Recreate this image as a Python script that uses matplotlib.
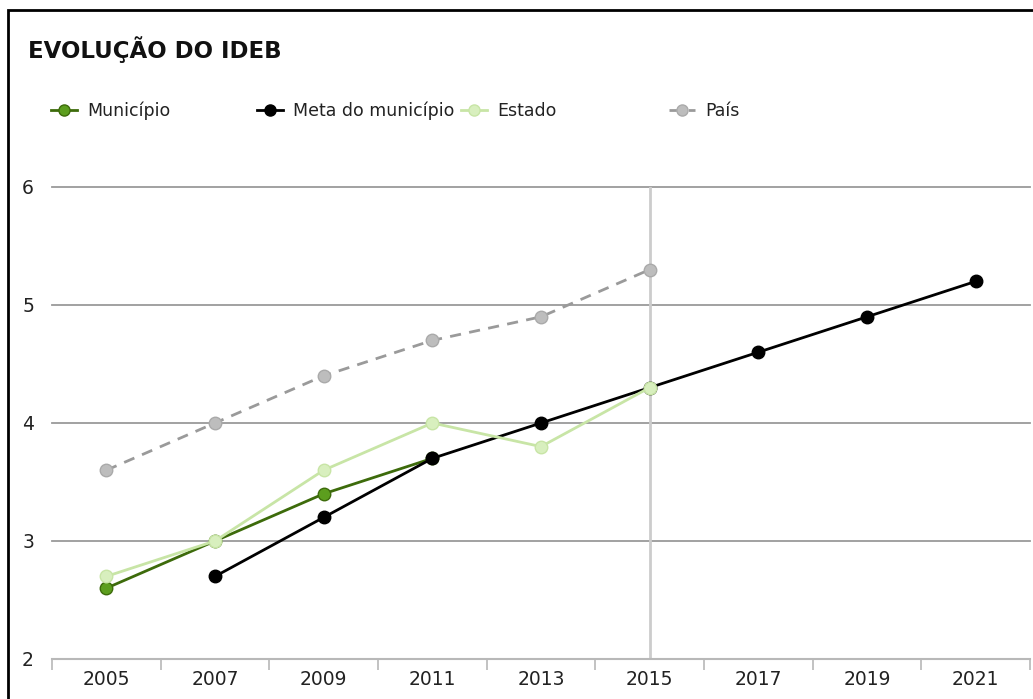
import matplotlib.pyplot as plt
from matplotlib.patches import Rectangle
from matplotlib.lines import Line2D

# dados do gráfico
anos = ['2005', '2007', '2009', '2011', '2013', '2015', '2017', '2019', '2021']
municipio = [2.6, 3.0, 3.4, 3.7, None, None, None, None, None]
meta = [None, 2.7, 3.2, 3.7, 4.0, 4.3, 4.6, 4.9, 5.2]
estado = [2.7, 3.0, 3.6, 4.0, 3.8, 4.3, None, None, None]
pais = [3.6, 4.0, 4.4, 4.7, 4.9, 5.3, None, None, None]
y_ticks = [2, 3, 4, 5, 6]


def to_xy(values):
    xs = [i for i, v in enumerate(values) if v is not None]
    ys = [v for v in values if v is not None]
    return xs, ys


fig = plt.figure(figsize=(10.33, 6.99), dpi=100)
ax = fig.add_axes([52 / 1033, 40 / 699, 978 / 1033, 472 / 699])

series = [
    ('Município', municipio, dict(color='#3d6b0b', mfc='#5c9e1e', mec='#3d6b0b', ls='-')),
    ('Meta do município', meta, dict(color='black', mfc='black', mec='black', ls='-')),
    ('Estado', estado, dict(color='#c8e5a6', mfc='#d8efbe', mec='#c8e5a6', ls='-')),
    ('País', pais, dict(color='#9a9a9a', mfc='#bdbdbd', mec='#aaaaaa', ls=(0, (4, 3)))),
]

handles = []
for name, vals, st in series:
    xs, ys = to_xy(vals)
    ax.plot(xs, ys, color=st['color'], ls=st['ls'], lw=2, marker='o', ms=9,
            mfc=st['mfc'], mec=st['mec'], mew=1, zorder=3)
    handles.append(Line2D([], [], color=st['color'], ls=st['ls'], lw=2, marker='o',
                          ms=8, mfc=st['mfc'], mec=st['mec'], mew=1))

ax.axvline(5, color='#cccccc', lw=2, zorder=2)

ax.set_xlim(-0.5, len(anos) - 0.5)
ax.set_ylim(2, 6)
ax.set_xticks(range(len(anos)))
ax.set_xticklabels(anos)
ax.set_xticks([i - 0.5 for i in range(len(anos) + 1)], minor=True)
ax.set_yticks(y_ticks)
ax.tick_params(axis='x', which='major', length=0, pad=8, labelsize=13.5, colors='#222222')
ax.tick_params(axis='x', which='minor', length=8, width=1.2, color='#b8b8b8')
ax.tick_params(axis='y', length=0, pad=13, labelsize=13.5, colors='#222222')

for s in ['top', 'right', 'left']:
    ax.spines[s].set_visible(False)
ax.spines['bottom'].set_color('#b8b8b8')
ax.spines['bottom'].set_linewidth(1.5)
for y in y_ticks[1:]:
    ax.axhline(y, color='#9a9a9a', lw=1.3, zorder=1, clip_on=False)

fig.text(28 / 1033, 1 - 50 / 699, 'EVOLUÇÃO DO IDEB', fontsize=16.5, fontweight='bold',
         va='center', ha='left', color='#111111')

leg_x = [44, 250, 454, 662]
for (name, _, _), h, lx in zip(series, handles, leg_x):
    leg = fig.legend([h], [name], loc='center left', bbox_to_anchor=(lx / 1033, 1 - 111 / 699),
                     frameon=False, fontsize=12.5, handlelength=1.5, handletextpad=0.6,
                     borderaxespad=0)
    for t in leg.get_texts():
        t.set_color('#222222')

fig.add_artist(Rectangle((8 / 1033, -0.05), 1.1, 1.05 - 10 / 699, transform=fig.transFigure,
                         fill=False, ec='black', lw=2))

fig.savefig('out.png', dpi=100)
